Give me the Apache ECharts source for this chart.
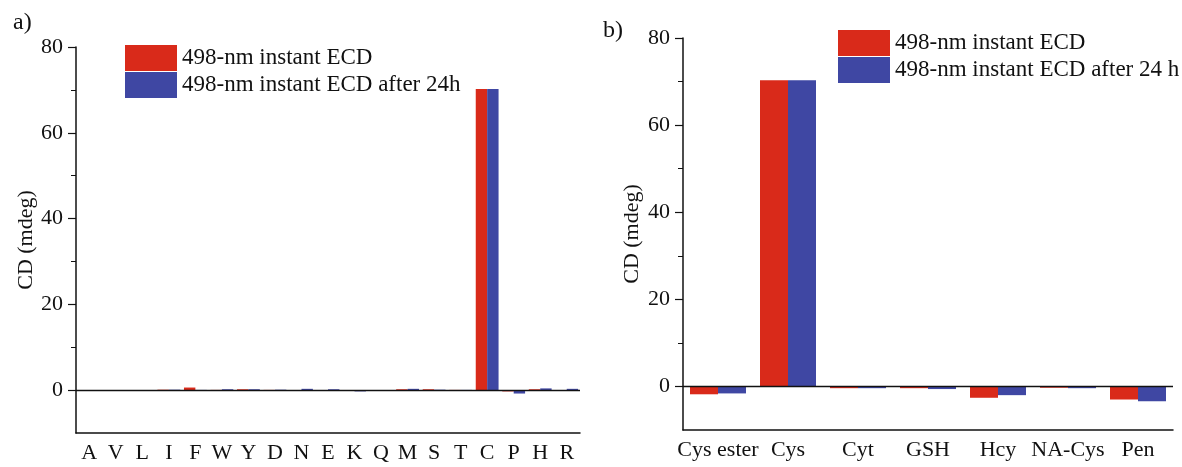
<!DOCTYPE html>
<html>
<head>
<meta charset="utf-8">
<script src="https://cdn.jsdelivr.net/npm/echarts@6/dist/echarts.min.js"></script>
<style>
  html, body { margin: 0; padding: 0; background: #fff; }
  #chart { width: 1182px; height: 467px; }
</style>
</head>
<body>
<div id="chart"></div>
<script>
// panel a) amino acids
const catsA = ['A', 'V', 'L', 'I', 'F', 'W', 'Y', 'D', 'N', 'E', 'K', 'Q', 'M', 'S', 'T', 'C', 'P', 'H', 'R'];
const instantA = [0, 0, 0, 0.1, 0.6, 0.05, 0.2, 0.05, -0.1, -0.2, -0.2, -0.2, 0.2, 0.2, 0.05, 70.2, -0.3, 0.2, 0];
const after24A = [0, -0.2, 0, 0.1, 0.05, 0.2, 0.2, 0.1, 0.3, 0.2, -0.3, 0, 0.3, 0.1, 0.05, 70.2, -0.8, 0.4, 0.3];

// panel b) thiols
const catsB = ['Cys ester', 'Cys', 'Cyt', 'GSH', 'Hcy', 'NA-Cys', 'Pen'];
const instantB = [-1.8, 70.3, -0.4, -0.4, -2.6, -0.3, -3.0];
const after24B = [-1.6, 70.3, -0.4, -0.6, -2.0, -0.4, -3.4];

const majorTicks = [0, 20, 40, 60, 80];
const minorTicks = [10, 30, 50, 70];

const RED = '#d92a1a';
const BLUE = '#3f47a3';
const FONT = 'Liberation Serif';

const chart = echarts.init(document.getElementById('chart'));

function yAxes(gridIndex, nameGap) {
    return [{
        type: 'value', gridIndex, min: -10, max: 80, position: 'left',
        name: 'CD (mdeg)', nameLocation: 'middle', nameGap,
        nameTextStyle: { fontFamily: FONT, fontSize: 22, color: '#111' },
        axisLine: { show: true, lineStyle: { color: '#111', width: 1.5 } },
        axisTick: { show: true, length: 8, customValues: majorTicks, lineStyle: { color: '#111', width: 1.2 } },
        axisLabel: { customValues: majorTicks, margin: 13, fontFamily: FONT, fontSize: 22, color: '#111' },
        splitLine: { show: false }
    }, {
        type: 'value', gridIndex, min: -10, max: 80, position: 'left', offset: 0,
        axisLine: { show: false },
        axisTick: { show: true, length: 5, customValues: minorTicks, lineStyle: { color: '#111', width: 1 } },
        axisLabel: { show: false },
        splitLine: { show: false }
    }];
}

function xAxis(gridIndex, data) {
    return {
        type: 'category', gridIndex, data,
        axisLine: { onZero: false, lineStyle: { color: '#111', width: 1.5 } },
        axisTick: { alignWithLabel: true, length: 7, lineStyle: { color: '#111', width: 1.2 } },
        axisLabel: { interval: 0, margin: 9, fontFamily: FONT, fontSize: 22, color: '#111' }
    };
}

const zeroLine = {
    silent: true, symbol: 'none', label: { show: false },
    lineStyle: { color: '#111', type: 'solid', width: 1.3 },
    data: [{ yAxis: 0 }]
};

function bar(name, data, color, xi, yi, gap, withZero) {
    const s = {
        name, type: 'bar', data, xAxisIndex: xi, yAxisIndex: yi,
        barGap: '0%', barCategoryGap: gap,
        itemStyle: { color }
    };
    if (withZero) s.markLine = zeroLine;
    return s;
}

const legendBase = {
    orient: 'vertical', icon: 'rect', itemWidth: 52, itemHeight: 26, itemGap: 1, padding: 0,
    textStyle: { fontFamily: FONT, fontSize: 23, lineHeight: 26, color: '#111' }
};

const option = {
    animation: false,
    backgroundColor: '#fff',
    textStyle: { fontFamily: FONT },
    title: [
        { text: 'a)', left: 8, top: 6, textStyle: { fontFamily: FONT, fontSize: 24, fontWeight: 'normal', color: '#111' } },
        { text: 'b)', left: 598, top: 14, textStyle: { fontFamily: FONT, fontSize: 24, fontWeight: 'normal', color: '#111' } }
    ],
    legend: [
        Object.assign({}, legendBase, { data: ['498-nm instant ECD', '498-nm instant ECD after 24h'], left: 125, top: 45 }),
        Object.assign({}, legendBase, { data: ['498-nm instant ECD', '498-nm instant ECD after 24 h'], left: 838, top: 30 })
    ],
    grid: [
        { left: 76, right: 602, top: 47, bottom: 34 },
        { left: 683, right: 9, top: 38, bottom: 37 }
    ],
    xAxis: [xAxis(0, catsA), xAxis(1, catsB)],
    yAxis: [...yAxes(0, 37), ...yAxes(1, 40)],
    series: [
        bar('498-nm instant ECD', instantA, RED, 0, 0, '14%', true),
        bar('498-nm instant ECD after 24h', after24A, BLUE, 0, 0, '14%', false),
        bar('498-nm instant ECD', instantB, RED, 1, 2, '20%', true),
        bar('498-nm instant ECD after 24 h', after24B, BLUE, 1, 2, '20%', false)
    ]
};

chart.setOption(option);
</script>
</body>
</html>
